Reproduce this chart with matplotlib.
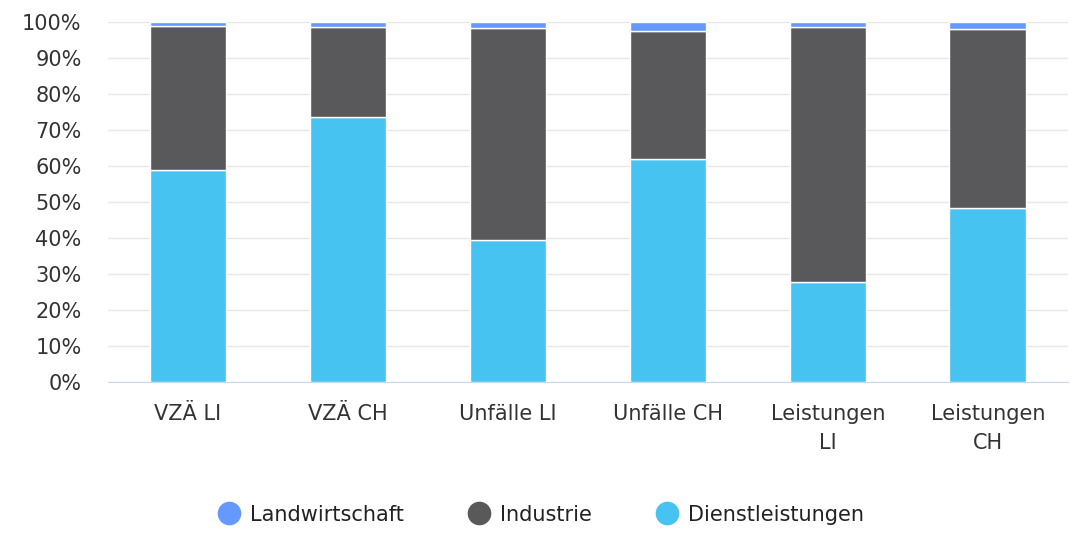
import matplotlib.pyplot as plt
import numpy as np
from matplotlib.lines import Line2D

categories = ['VZÄ LI', 'VZÄ CH', 'Unfälle LI', 'Unfälle CH', 'Leistungen\nLI', 'Leistungen\nCH']
dienstleistungen = [59.0, 73.6, 39.4, 61.9, 27.8, 48.3]
industrie = [40.0, 24.9, 58.8, 35.6, 70.7, 49.7]
landwirtschaft = [1.0, 1.5, 1.8, 2.5, 1.5, 2.0]

plt.rcParams['font.family'] = ['DejaVu Sans']

fig = plt.figure(figsize=(10.7, 5.34), dpi=100)
ax = fig.add_axes([0.101, 0.2846, 0.897, 0.6742])

x = np.arange(len(categories))
w = 0.48
ax.bar(x, dienstleistungen, w, color='#46c3f0', edgecolor='white', linewidth=1, zorder=3)
ax.bar(x, industrie, w, bottom=dienstleistungen, color='#59595b', edgecolor='white', linewidth=1, zorder=3)
bottom2 = np.array(dienstleistungen) + np.array(industrie)
ax.bar(x, landwirtschaft, w, bottom=bottom2, color='#6699ff', edgecolor='white', linewidth=1, zorder=3)

ax.set_xlim(-0.5, len(categories) - 0.5)
ax.set_ylim(0, 100)
ax.set_yticks(np.arange(0, 101, 10))
ax.set_yticklabels([f'{v}%' for v in range(0, 101, 10)], fontsize=15, color='#333333')
ax.set_xticks(x)
ax.set_xticklabels(categories, fontsize=15, color='#333333', linespacing=1.55)
ax.tick_params(axis='both', length=0)
ax.tick_params(axis='y', pad=19)
ax.tick_params(axis='x', pad=16)
ax.grid(axis='y', color='#e6e6e6', linewidth=1, zorder=0)
for s in ['top', 'right', 'left']:
    ax.spines[s].set_visible(False)
ax.spines['bottom'].set_color('#ccd6eb')
ax.spines['bottom'].set_zorder(4)

handles = [Line2D([], [], marker='o', linestyle='', markersize=16, color=c)
           for c in ['#6699ff', '#59595b', '#46c3f0']]
leg = fig.legend(handles, ['Landwirtschaft', 'Industrie', 'Dienstleistungen'],
                 loc='center', bbox_to_anchor=(0.505, 0.036), ncol=3, frameon=False,
                 fontsize=15, handlelength=1.2, handletextpad=0.4, columnspacing=3.0)
for t in leg.get_texts():
    t.set_color('#222222')

fig.savefig('out.png', dpi=100)
